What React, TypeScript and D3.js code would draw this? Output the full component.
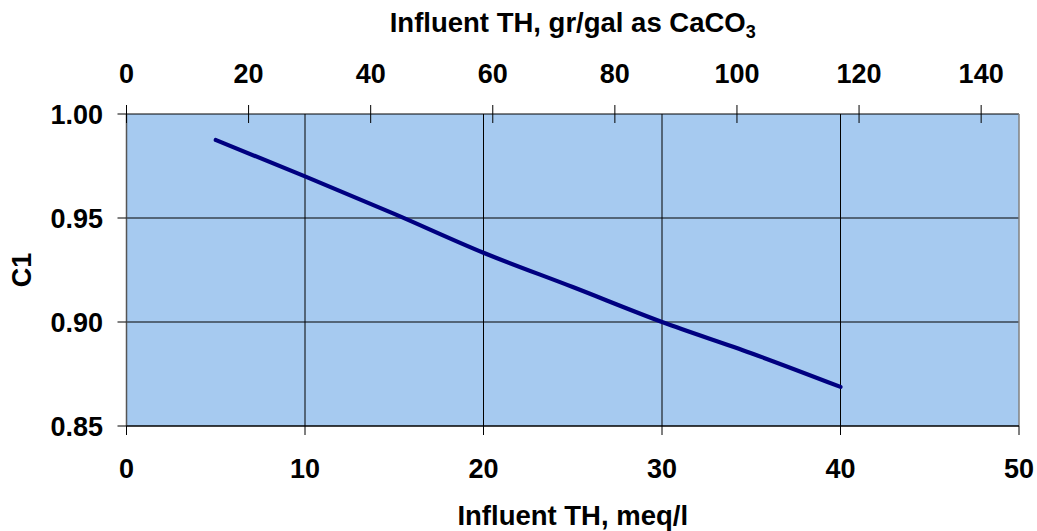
import React from "react";
import * as d3 from "d3";

const meq = [5, 10, 15, 20, 25, 30, 35, 40];
const c1 = [0.9875, 0.97, 0.952, 0.9333, 0.9168, 0.9, 0.885, 0.8688];
const bottomTicks = [0, 10, 20, 30, 40, 50];
const topTicks = [0, 20, 40, 60, 80, 100, 120, 140];
const yTicks = [0.85, 0.9, 0.95, 1.0];
const MEQ_TO_GRGAL = 2.924;

const W = 1037;
const H = 531;
const L = 126.5;
const R = 1019;
const T = 114;
const B = 426;
const FONT = "'Liberation Sans', Arial, sans-serif";

export default function App() {
  const x = d3.scaleLinear().domain([0, 50]).range([L, R]);
  const xTop = d3.scaleLinear().domain([0, 50 * MEQ_TO_GRGAL]).range([L, R]);
  const y = d3.scaleLinear().domain([0.85, 1.0]).range([B, T]);
  const pts = meq.map((m, i) => [m, c1[i]] as [number, number]);
  const line = d3
    .line<[number, number]>()
    .x((d) => x(d[0]))
    .y((d) => y(d[1]))
    .curve(d3.curveMonotoneX);

  return (
    <svg
      width={W}
      height={H}
      style={{ position: "absolute", left: 0, top: 0, background: "#fff" }}
      fontFamily={FONT}
      fontWeight="bold"
    >
      <rect x={L} y={T} width={R - L} height={B - T} fill="#A6CAF0" />
      {bottomTicks
        .filter((t) => t > 0 && t < 50)
        .map((t) => (
          <line key={"vg" + t} x1={x(t)} x2={x(t)} y1={T} y2={B} stroke="#000" strokeWidth={1} />
        ))}
      {yTicks
        .filter((t) => t > 0.86 && t < 0.99)
        .map((t) => (
          <line key={"hg" + t} x1={L} x2={R} y1={y(t)} y2={y(t)} stroke="#000" strokeWidth={1} />
        ))}
      <line x1={L} x2={R} y1={T} y2={T} stroke="#000" strokeWidth={1} />
      <line x1={R} x2={R} y1={T} y2={B} stroke="#808080" strokeWidth={1.5} />
      <line x1={L} x2={L} y1={T} y2={B} stroke="#555" strokeWidth={1.5} />
      <line x1={L} x2={R} y1={B} y2={B} stroke="#000" strokeWidth={1.5} />
      {bottomTicks.map((t) => (
        <g key={"bt" + t}>
          <line x1={x(t)} x2={x(t)} y1={B} y2={B + 9} stroke="#000" strokeWidth={1} />
          <text x={x(t)} y={478} textAnchor="middle" fontSize={27}>
            {t}
          </text>
        </g>
      ))}
      {topTicks.map((t) => (
        <g key={"tt" + t}>
          <line x1={xTop(t)} x2={xTop(t)} y1={T - 9} y2={T + 9} stroke="#000" strokeWidth={1} />
          <text x={xTop(t)} y={83} textAnchor="middle" fontSize={27}>
            {t}
          </text>
        </g>
      ))}
      {yTicks.map((t) => (
        <g key={"yt" + t}>
          <line x1={L - 9} x2={L} y1={y(t)} y2={y(t)} stroke="#000" strokeWidth={1} />
          <text x={103} y={y(t)} dy="0.36em" textAnchor="end" fontSize={27}>
            {t.toFixed(2)}
          </text>
        </g>
      ))}
      <path d={line(pts) || ""} fill="none" stroke="#000080" strokeWidth={4.2} strokeLinecap="round" />
      <text x={(L + R) / 2} y={525} textAnchor="middle" fontSize={27.5}>
        Influent TH, meq/l
      </text>
      <text x={(L + R) / 2} y={32} textAnchor="middle" fontSize={27.5}>
        Influent TH, gr/gal as CaCO
        <tspan fontSize={18} dy={6}>3</tspan>
      </text>
      <text
        transform={`translate(${31},${(T + B) / 2}) rotate(-90)`}
        textAnchor="middle"
        fontSize={27}
      >
        C1
      </text>
    </svg>
  );
}
